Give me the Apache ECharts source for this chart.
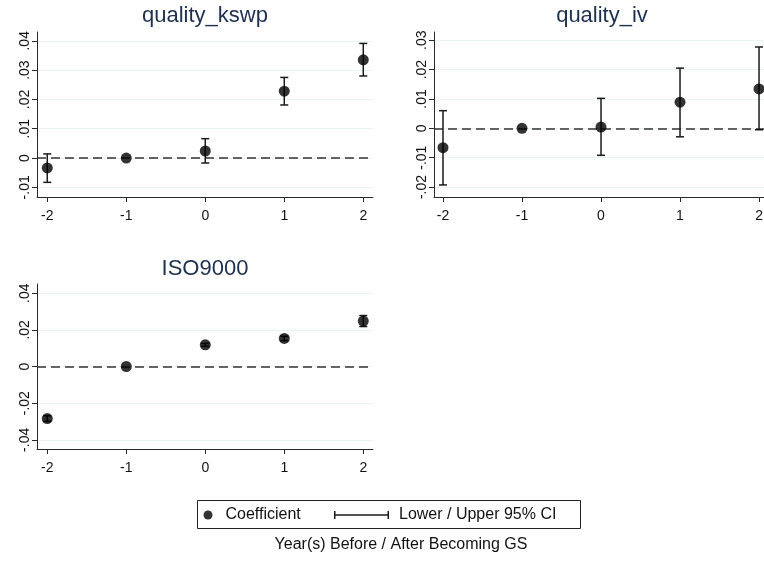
<!DOCTYPE html>
<html>
<head>
<meta charset="utf-8">
<script src="https://cdn.jsdelivr.net/npm/echarts@6/dist/echarts.min.js"></script>
<style>
  html, body { margin: 0; padding: 0; background: #fff; }
  #chart { width: 764px; height: 564px; }
</style>
</head>
<body>
<div id="chart"></div>
<script>
// ---- data ----
const years = [-2, -1, 0, 1, 2];
const panelTitles = ['quality_kswp', 'quality_iv', 'ISO9000'];

const kswpCoef = [-0.0034, 0, 0.0024, 0.0228, 0.0335];
const kswpLow  = [-0.0083, null, -0.0017, 0.0181, 0.0280];
const kswpHigh = [0.0014, null, 0.0066, 0.0275, 0.0391];

const ivCoef = [-0.0066, 0, 0.0004, 0.0089, 0.0134];
const ivLow  = [-0.0193, null, -0.0092, -0.0029, -0.0005];
const ivHigh = [0.0060, null, 0.0102, 0.0205, 0.0277];

const isoCoef = [-0.0284, 0, 0.0118, 0.0153, 0.0248];
const isoLow  = [-0.0299, null, 0.0110, 0.0141, 0.0218];
const isoHigh = [-0.0269, null, 0.0126, 0.0165, 0.0278];

const kswpTicks = [-0.01, 0, 0.01, 0.02, 0.03, 0.04];
const ivTicks   = [-0.02, -0.01, 0, 0.01, 0.02, 0.03];
const isoTicks  = [-0.04, -0.02, 0, 0.02, 0.04];
const xTicks    = [-2, -1, 0, 1, 2];

const xAxisTitle = 'Year(s) Before / After Becoming GS';
const coefName = 'Coefficient';
const ciName = 'Lower / Upper 95% CI';

// ---- helpers ----
const FONT = 'Liberation Sans, Arial, sans-serif';
const AX = '#2a2a2a';

function fmtY(v) {
  if (Math.abs(v) < 1e-9) return '0';
  return String(+v.toFixed(3)).replace('0.', '.');
}

function ciData(lo, hi) {
  return years.map((y, i) => [y, lo[i], hi[i]]).filter(d => d[1] != null);
}

function renderCI(params, api) {
  const x = api.value(0), lo = api.value(1), hi = api.value(2);
  const p1 = api.coord([x, hi]);
  const p2 = api.coord([x, lo]);
  const w = 4;
  const st = { stroke: '#1a1a1a', lineWidth: 1.5 };
  return {
    type: 'group',
    children: [
      { type: 'line', shape: { x1: p1[0], y1: p1[1], x2: p2[0], y2: p2[1] }, style: st },
      { type: 'line', shape: { x1: p1[0] - w, y1: p1[1], x2: p1[0] + w, y2: p1[1] }, style: st },
      { type: 'line', shape: { x1: p2[0] - w, y1: p2[1], x2: p2[0] + w, y2: p2[1] }, style: st }
    ]
  };
}

const grids = [
  { left: 37, top: 32, width: 336, height: 165 },
  { left: 434, top: 32, width: 336, height: 165 },
  { left: 37, top: 284, width: 336, height: 165 }
];
const xRanges = [[-2.13, 2.123], [-2.114, 2.139], [-2.13, 2.123]];
const yRanges = [[-0.0133, 0.0430], [-0.0234, 0.0328], [-0.0450, 0.0450]];
const yTickSets = [kswpTicks, ivTicks, isoTicks];
const coefs = [kswpCoef, ivCoef, isoCoef];
const lows = [kswpLow, ivLow, isoLow];
const highs = [kswpHigh, ivHigh, isoHigh];
const titlePos = [[205, 5], [602, 5], [205, 258]];

const option = {
  animation: false,
  backgroundColor: '#fff',
  title: panelTitles.map((t, i) => ({
    text: t,
    left: titlePos[i][0],
    top: titlePos[i][1],
    textAlign: 'center',
    padding: 0,
    textStyle: { fontFamily: FONT, fontSize: 22, fontWeight: 'normal', color: '#1e3050' }
  })).concat([{
    text: xAxisTitle,
    left: 401,
    top: 537,
    textAlign: 'center',
    padding: 0,
    textStyle: { fontFamily: FONT, fontSize: 16, fontWeight: 'normal', color: '#111' }
  }]),
  grid: grids.map(g => Object.assign({ containLabel: false, outerBoundsMode: 'none' }, g)),
  xAxis: grids.map((g, i) => ({
    type: 'value',
    gridIndex: i,
    min: xRanges[i][0],
    max: xRanges[i][1],
    axisLine: { show: true, onZero: false, lineStyle: { color: AX, width: 1 } },
    axisTick: { show: true, length: 5, customValues: xTicks, lineStyle: { color: AX } },
    axisLabel: {
      customValues: xTicks, margin: 12, fontSize: 14, fontFamily: FONT, color: '#111',
      formatter: v => String(v)
    },
    splitLine: { show: false }
  })),
  yAxis: grids.map((g, i) => ({
    type: 'value',
    gridIndex: i,
    min: yRanges[i][0],
    max: yRanges[i][1],
    axisLine: { show: true, onZero: false, lineStyle: { color: AX, width: 1 } },
    axisTick: { show: true, length: 5, customValues: yTickSets[i], lineStyle: { color: AX } },
    axisLabel: {
      customValues: yTickSets[i], rotate: 90, margin: 5, fontSize: 14, fontFamily: FONT, color: '#111',
      formatter: fmtY
    },
    splitLine: { show: true, lineStyle: { color: '#eaf2f3', width: 1 } }
  })),
  legend: [
    {
      data: [coefName],
      left: 203.5, top: 507, padding: 0,
      icon: 'circle', itemWidth: 9, itemHeight: 9,
      selectedMode: false,
      textStyle: { fontFamily: FONT, fontSize: 16, color: '#111', padding: [0, 0, 0, 8] }
    },
    {
      data: [ciName],
      left: 334, top: 507, padding: 0,
      icon: 'path://M0,3.25H55V4.75H0Z M0,0H1.5V8H0Z M53.5,0H55V8H53.5Z',
      itemWidth: 55, itemHeight: 8,
      selectedMode: false,
      textStyle: { fontFamily: FONT, fontSize: 16, color: '#111', padding: [0, 0, 0, 5] }
    }
  ],
  graphic: [{
    type: 'rect',
    shape: { x: 197.5, y: 500.5, width: 383, height: 28 },
    style: { fill: 'none', stroke: '#222', lineWidth: 1 },
    silent: true
  }],
  series: [].concat(
    grids.map((g, i) => ({
      name: ciName,
      type: 'custom',
      xAxisIndex: i, yAxisIndex: i,
      renderItem: renderCI,
      encode: { x: 0, y: [1, 2] },
      itemStyle: { color: '#1a1a1a' },
      data: ciData(lows[i], highs[i]),
      z: 3
    })),
    grids.map((g, i) => ({
      name: coefName,
      type: 'scatter',
      xAxisIndex: i, yAxisIndex: i,
      symbol: 'circle',
      symbolSize: 11,
      itemStyle: { color: '#000' },
      data: years.map((y, k) => [y, coefs[i][k]]),
      z: 4,
      markLine: {
        silent: true,
        symbol: 'none',
        label: { show: false },
        lineStyle: { type: [9, 5], color: '#333', width: 1.5 },
        data: [{ yAxis: 0 }],
        z: 2
      }
    }))
  )
};

const chart = echarts.init(document.getElementById('chart'), null, { renderer: 'canvas' });
chart.setOption(option);
</script>
</body>
</html>
